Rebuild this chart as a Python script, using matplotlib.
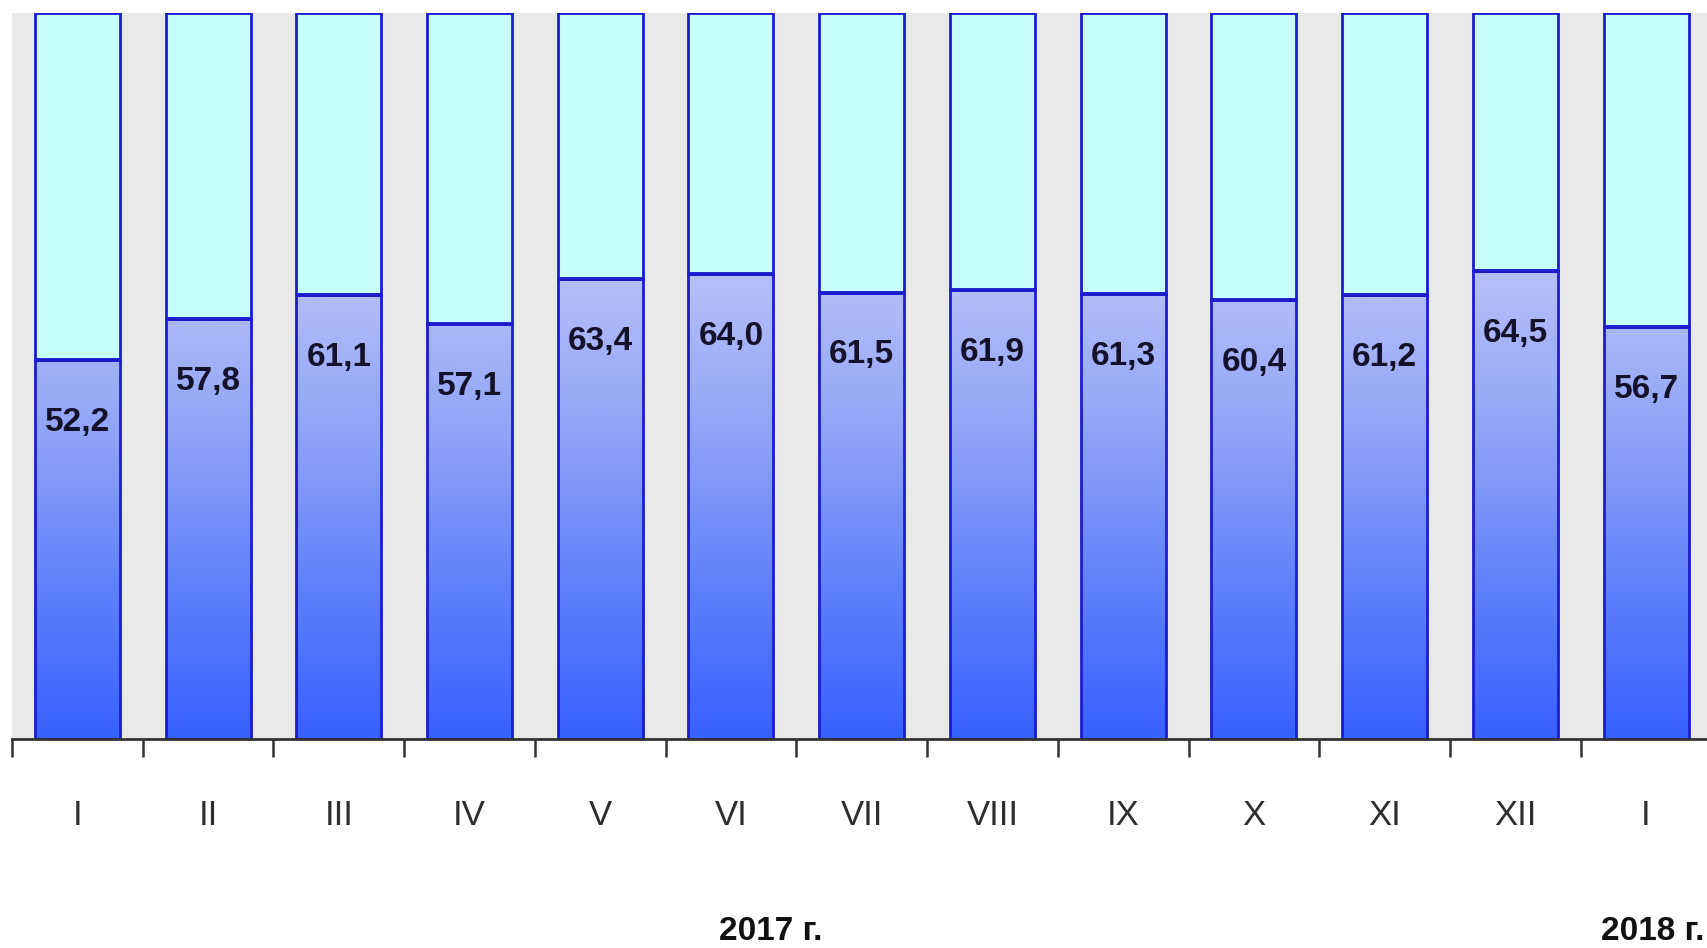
import matplotlib
matplotlib.use("Agg")
import matplotlib.pyplot as plt
import numpy as np
from matplotlib.colors import LinearSegmentedColormap, Normalize
from matplotlib.patches import Rectangle

categories = ["I", "II", "III", "IV", "V", "VI", "VII", "VIII", "IX", "X", "XI", "XII", "I"]
values = [52.2, 57.8, 61.1, 57.1, 63.4, 64.0, 61.5, 61.9, 61.3, 60.4, 61.2, 64.5, 56.7]
total = 100.0
year_labels = ["2017 г.", "2018 г."]
year_positions = [5.3, 12.05]

fam = ["Liberation Sans", "DejaVu Sans"]

fig = plt.figure(figsize=(17.08, 9.48), dpi=100)
ax = fig.add_axes([12 / 1708, 209 / 948, 1 - 12 / 1708 + 0.002, 726 / 948])
ax.set_facecolor("#e9e9e9")

cmap = LinearSegmentedColormap.from_list("g", ["#3761ff", "#5f80fb", "#8ea2f7", "#b3bdf7"])
norm = Normalize(0, 62)
width = 0.65
x = np.arange(len(values))
edge = "#1c1ccf"

for xi, v in zip(x, values):
    # upper (remainder) segment
    ax.add_patch(Rectangle((xi - width / 2, v), width, total - v, facecolor="#c8fdfd",
                           edgecolor=edge, linewidth=2.0, zorder=2))
    # lower gradient segment
    rect = Rectangle((xi - width / 2, 0), width, v, facecolor="none",
                     edgecolor=edge, linewidth=2.0, zorder=4)
    ax.add_patch(rect)
    grad = np.linspace(0, v, 256).reshape(-1, 1)
    im = ax.imshow(cmap(norm(grad)), extent=(xi - width / 2, xi + width / 2, 0, v),
                   origin="lower", aspect="auto", zorder=3, interpolation="bilinear")
    im.set_clip_path(rect)
    ax.plot([xi - width / 2, xi + width / 2], [v, v], color=edge, linewidth=2.8, zorder=5,
            solid_capstyle="butt")
    ax.text(xi, v - 8.6, f"{v:.1f}".replace(".", ","), ha="center", va="center",
            fontsize=24, fontweight="bold", color="#12122a", family=fam, zorder=6)

ax.set_xlim(-0.5, len(values) - 0.5)
ax.set_ylim(0, total)
ax.set_yticks([])
for s in ["top", "right", "left"]:
    ax.spines[s].set_visible(False)
ax.spines["bottom"].set_color("#333333")
ax.spines["bottom"].set_linewidth(2)
ax.spines["bottom"].set_zorder(7)

ax.set_xticks(np.arange(len(values) + 1) - 0.5)
ax.set_xticklabels([])
ax.tick_params(axis="x", which="major", length=13, width=1.8, color="#333333", direction="out")
ax.set_xticks(x, minor=True)
ax.set_xticklabels(categories, minor=True, fontsize=25, color="#2e2e2e", family=fam)
ax.tick_params(axis="x", which="minor", length=0, pad=43)

for lbl, pos in zip(year_labels, year_positions):
    ax.text(pos, -26.5, lbl, ha="center", va="center", fontsize=24, fontweight="bold",
            color="#111111", family=fam, clip_on=False)

fig.savefig("out.png", dpi=100, facecolor="white")
